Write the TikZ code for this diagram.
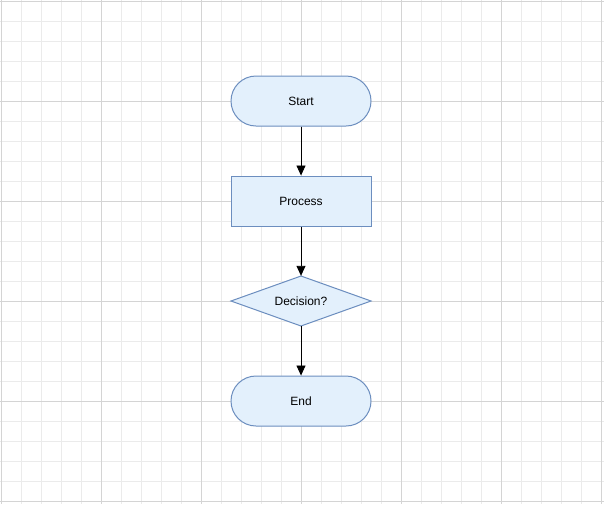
\documentclass[tikz,border=0pt]{standalone}
\usepackage{fontspec}
\setmainfont{Liberation Sans}
\usetikzlibrary{shapes.geometric,arrows.meta}
\definecolor{fillb}{HTML}{E3F0FC}
\definecolor{lineb}{HTML}{6C8EBF}
\definecolor{minorg}{HTML}{EBEBEB}
\definecolor{majorg}{HTML}{D4D4D4}
\begin{document}
\begin{tikzpicture}[x=1pt,y=-1pt,
  box/.style={draw=lineb,fill=fillb,line width=1pt,minimum width=140pt,minimum height=50pt,inner sep=0pt,font=\fontsize{12}{14}\selectfont},
  term/.style={box,rounded corners=25pt},
  proc/.style={box},
  dec/.style={box,diamond,aspect=2.8,minimum width=0pt,minimum height=0pt,inner sep=0pt,text width=0pt},
  arr/.style={-{Triangle[length=10pt,width=9pt]},line width=0.9pt,black}]
\useasboundingbox (0,0) rectangle (604,504);
\fill[white] (0,0) rectangle (604,504);
\foreach \i in {0,...,30} \draw[minorg,line width=0.6pt] (1+20*\i,0) -- (1+20*\i,504);
\foreach \i in {0,...,25} \draw[minorg,line width=0.6pt] (0,1+20*\i) -- (604,1+20*\i);
\foreach \i in {0,...,6} \draw[majorg,line width=0.8pt] (1+100*\i,0) -- (1+100*\i,504);
\foreach \i in {0,...,5} \draw[majorg,line width=0.8pt] (0,1+100*\i) -- (604,1+100*\i);
\node[term] (start) at (301,101) {Start};
\node[proc] (proc) at (301,201) {Process};
\draw[draw=lineb,fill=fillb,line width=1pt] (231,301) -- (301,276) -- (371,301) -- (301,326) -- cycle;
\node[font=\fontsize{12}{14}\selectfont,inner sep=0pt,minimum width=140pt,minimum height=50pt] (dec) at (301,301) {Decision?};
\node[term] (end) at (301,401) {End};
\draw[arr] (start) -- (proc);
\draw[arr] (proc) -- (dec.north);
\draw[arr] (dec.south) -- (end);
\end{tikzpicture}
\end{document}
